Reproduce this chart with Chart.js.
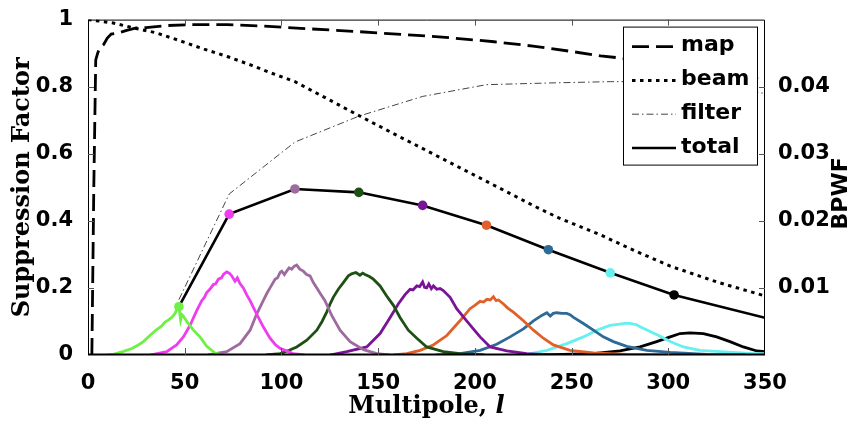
<!DOCTYPE html>
<html>
<head>
<meta charset="utf-8">
<script src="https://cdn.jsdelivr.net/npm/chart.js@4.4.1/dist/chart.umd.min.js"></script>
<style>
  html, body { margin: 0; padding: 0; background: #fff; }
  #wrap { width: 851px; height: 422px; }
</style>
</head>
<body>
<div id="wrap"><canvas id="supp" width="851" height="422"></canvas></div>
<script>
// suppression factors against multipole l (left axis)
const mapSupp = [[2,0],[3,0.5],[4,0.88],[5,0.9],[6,0.915],[8,0.925],[10,0.945],[12,0.957],[16,0.961],[20,0.968],[25,0.975],[30,0.976],[40,0.982],[53,0.985],[72,0.985],[90,0.981],[110,0.974],[140,0.964],[170,0.953],[187,0.946],[210,0.934],[230,0.921],[250,0.905],[265,0.892],[276,0.885],[300,0.865],[325,0.843],[350,0.82]];
const beamSupp = [[0,1],[13,0.99],[23,0.976],[35,0.961],[48,0.936],[60,0.912],[72,0.89],[84,0.865],[95,0.84],[107,0.815],[125,0.76],[141,0.711],[160,0.654],[187,0.574],[213,0.497],[230,0.446],[244,0.407],[265,0.358],[283,0.31],[301,0.265],[325,0.218],[350,0.176]];
const filterSupp = [[47,0.165],[73,0.48],[107,0.635],[140,0.712],[173,0.771],[206,0.806],[238,0.811],[270,0.815],[303,0.815],[350,0.78]];
const totalSupp = [[47,0.144],[73,0.42],[107,0.495],[140,0.485],[173,0.446],[206,0.387],[238,0.314],[270,0.245],[303,0.179],[350,0.111]];

// band power window functions (right axis)
const bpwf1 = [[10,0],[13,0.0001],[18,0.0005],[23,0.001],[26,0.0015],[28.6,0.002],[32,0.0029],[35.5,0.0038],[38,0.0043],[39.8,0.0049],[41.5,0.0052],[43.3,0.0056],[45,0.0062],[46,0.0069],[47,0.0072],[47.9,0.0052],[48.6,0.006],[49.3,0.0058],[51.3,0.0049],[54.5,0.0037],[57.9,0.0027],[61.4,0.0013],[65.7,0.0003],[70,0]];
const bpwf2 = [[32,0],[40.7,0.0005],[45.8,0.0015],[49.3,0.0027],[52.7,0.0044],[56.2,0.0066],[58.8,0.0081],[60,0.0085],[61.4,0.0093],[63,0.0098],[64.8,0.0105],[66,0.0106],[67.4,0.0113],[69,0.0115],[70,0.012],[71.7,0.0124],[73,0.0122],[74.3,0.0118],[76,0.011],[77.2,0.0115],[78.5,0.0107],[80.3,0.01],[82,0.009],[83.8,0.0081],[87.2,0.0061],[90.6,0.0042],[94.1,0.0025],[97,0.0015],[99.3,0.001],[106,0.0002],[112,0]];
const bpwf3 = [[62,0],[71.7,0.0005],[78.6,0.0017],[83.8,0.0037],[87.2,0.0061],[90.6,0.0081],[92.5,0.0092],[94.1,0.01],[96.7,0.0113],[98,0.0115],[99.3,0.0123],[100.2,0.0125],[101.5,0.012],[102.7,0.0125],[104,0.013],[105.3,0.0128],[106.5,0.0132],[107.9,0.0134],[109.5,0.0128],[111.3,0.0125],[113,0.012],[114.8,0.0118],[116.5,0.0108],[118.3,0.01],[120,0.0092],[122.5,0.0081],[126,0.0059],[130.3,0.0037],[135.5,0.002],[142.4,0.0008],[149.3,0.0002],[156,0]];
const bpwf4 = [[92,0],[99.3,0.0002],[104,0.0007],[107.9,0.0012],[113.1,0.0022],[118.3,0.0037],[121,0.005],[123.4,0.0064],[125,0.0075],[126.8,0.0086],[129.4,0.0098],[132,0.0108],[134.6,0.0118],[136.3,0.0121],[138.5,0.0123],[140.6,0.0119],[142,0.0122],[143.2,0.012],[145.5,0.0117],[147.5,0.0113],[151,0.0103],[154.4,0.0088],[157.9,0.0074],[161.3,0.0056],[165.6,0.0037],[170,0.0025],[175.1,0.0012],[183.7,0.0005],[192.3,0.0002],[205,0]];
const bpwf5 = [[125,0],[133.8,0.0005],[144.1,0.0012],[151,0.0032],[156.2,0.0056],[160.4,0.0076],[163.9,0.009],[166.5,0.0098],[168,0.0097],[170,0.0103],[171.5,0.0102],[173,0.0109],[174,0.0101],[175.1,0.01],[176.2,0.0106],[177.5,0.0099],[178.6,0.0103],[180.3,0.0098],[182,0.0099],[183.7,0.0096],[187.2,0.0086],[190.6,0.0069],[194.9,0.0054],[199.2,0.0039],[202.7,0.0027],[207.9,0.0012],[216.5,0.0006],[226.8,0.0002],[240,0]];
const bpwf6 = [[158,0],[164.8,0.0002],[171.7,0.0007],[178.5,0.0015],[185.5,0.0029],[192.3,0.0051],[197.5,0.0069],[200,0.0074],[202.7,0.008],[204.5,0.0079],[206.2,0.0083],[208,0.0082],[209.6,0.0087],[211,0.0081],[212.2,0.0082],[214.8,0.0076],[217,0.007],[219.9,0.0064],[225.1,0.0051],[230.3,0.0037],[235.4,0.0025],[240.6,0.0015],[249.2,0.0007],[261.3,0.0003],[278.5,0.0001],[300,0]];
const bpwf7 = [[180,0],[192.3,0.0002],[202.7,0.0007],[211.3,0.0016],[218.2,0.0027],[225.1,0.0039],[230.3,0.0051],[234.6,0.0059],[237.2,0.0063],[239,0.0058],[240.5,0.0062],[242.3,0.0063],[245,0.0062],[247.5,0.0062],[249.2,0.006],[251,0.0056],[256.1,0.0047],[261.3,0.0037],[266.4,0.0027],[271.6,0.002],[278.5,0.0013],[288.9,0.0007],[301,0.0004],[320,0.0001],[340,0]];
const bpwf8 = [[215,0],[226.8,0.0001],[237.2,0.0007],[247.5,0.0017],[256.1,0.0027],[263,0.0037],[269.9,0.0044],[275,0.0046],[277.5,0.0047],[280.2,0.0047],[283.7,0.0045],[285.4,0.0042],[290.6,0.0035],[295.8,0.0028],[301,0.002],[307.8,0.0012],[316.4,0.0007],[326.8,0.0005],[344,0.0002],[350,0.0002]];
const bpwf9 = [[235,0],[261,0.0002],[275,0.0006],[285.4,0.0012],[294,0.002],[301,0.0027],[306.1,0.0032],[311.3,0.0033],[318.1,0.0032],[325,0.0027],[331.9,0.002],[338.8,0.0012],[345.8,0.0006],[350,0.0005]];

const bandColors = ['#6ef046', '#f03cf0', '#9e6b9e', '#1e5014', '#7a1496', '#e0602a', '#2e6a98', '#66f0f0', '#000000'];
const bands = [bpwf1, bpwf2, bpwf3, bpwf4, bpwf5, bpwf6, bpwf7, bpwf8, bpwf9];

const xTicks = [50, 100, 150, 200, 250, 300];
const yTicks = [0.2, 0.4, 0.6, 0.8];
const y2Ticks = [0.01, 0.02, 0.03, 0.04];

const pts = arr => arr.map(([x, y]) => ({ x, y }));
const tickFont = { family: 'DejaVu Sans', weight: 'bold', size: 21 };

const datasets = [
    {
        label: 'total', data: pts(totalSupp), yAxisID: 'y',
        borderColor: '#000', borderWidth: 2.6,
        pointRadius: totalSupp.map((p, i) => i < bandColors.length ? 4.8 : 0),
        pointBackgroundColor: totalSupp.map((p, i) => bandColors[i] || '#000'),
        pointBorderWidth: 0
    },
    { label: 'map', data: pts(mapSupp), yAxisID: 'y', borderColor: '#000', borderWidth: 2.8, borderDash: [17, 7], pointRadius: 0 },
    { label: 'beam', data: pts(beamSupp), yAxisID: 'y', borderColor: '#000', borderWidth: 3, borderDash: [3.5, 4.5], pointRadius: 0 },
    { label: 'filter', data: pts(filterSupp), yAxisID: 'y', borderColor: '#444', borderWidth: 1, borderDash: [7, 3, 1.5, 3], pointRadius: 0 }
];
bands.forEach((b, i) => {
    datasets.push({ label: 'bpwf' + (i + 1), data: pts(b), yAxisID: 'y2', borderColor: bandColors[i], borderWidth: 2.8, pointRadius: 0 });
});

// box around the plot with inward ticks
const frame = {
    id: 'frame',
    afterDatasetsDraw(chart) {
        const { ctx, chartArea: a, scales } = chart;
        ctx.save();
        ctx.strokeStyle = '#000';
        ctx.lineWidth = 1;
        ctx.beginPath();
        ctx.moveTo(a.left + 0.5, a.bottom);
        ctx.lineTo(a.left + 0.5, a.top + 0.5);
        ctx.lineTo(a.right - 0.5, a.top + 0.5);
        ctx.lineTo(a.right - 0.5, a.bottom);
        ctx.stroke();
        ctx.lineWidth = 2;
        ctx.beginPath();
        ctx.moveTo(a.left, a.bottom - 0.5);
        ctx.lineTo(a.right, a.bottom - 0.5);
        ctx.stroke();

        ctx.strokeStyle = '#555';
        ctx.lineWidth = 1;
        ctx.beginPath();
        xTicks.forEach(v => {
            const px = Math.round(scales.x.getPixelForValue(v)) + 0.5;
            ctx.moveTo(px, a.bottom); ctx.lineTo(px, a.bottom - 7);
            ctx.moveTo(px, a.top); ctx.lineTo(px, a.top + 6);
        });
        yTicks.forEach(v => {
            const py = Math.round(scales.y.getPixelForValue(v)) + 0.5;
            ctx.moveTo(a.left, py); ctx.lineTo(a.left + 6, py);
        });
        y2Ticks.forEach(v => {
            const py = Math.round(scales.y2.getPixelForValue(v)) + 0.5;
            ctx.moveTo(a.right, py); ctx.lineTo(a.right - 6, py);
        });
        ctx.stroke();
        ctx.restore();
    }
};

// x title with italic l, right title reading upwards, boxed legend
const extras = {
    id: 'extras',
    afterDraw(chart) {
        const { ctx, chartArea: a } = chart;
        ctx.save();
        ctx.fillStyle = '#000';
        ctx.textBaseline = 'alphabetic';
        const f1 = 'bold 24px "DejaVu Serif"';
        const f2 = 'italic bold 24px "DejaVu Serif"';
        ctx.font = f1;
        const w1 = ctx.measureText('Multipole, ').width;
        ctx.font = f2;
        const w2 = ctx.measureText('l').width;
        let tx = (a.left + a.right) / 2 - (w1 + w2) / 2;
        ctx.font = f1;
        ctx.fillText('Multipole, ', tx, 413);
        ctx.font = f2;
        ctx.fillText('l', tx + w1, 413);

        ctx.translate(841, (a.top + a.bottom) / 2 + 6);
        ctx.rotate(-Math.PI / 2);
        ctx.font = 'bold 22px "DejaVu Sans"';
        ctx.textAlign = 'center';
        ctx.textBaseline = 'middle';
        ctx.fillText('BPWF', 0, 0);
        ctx.restore();

        // legend
        const lx = a.right - 142, ly = a.top + 7, lw = 135, lh = 139;
        ctx.save();
        ctx.fillStyle = '#fff';
        ctx.fillRect(lx, ly, lw, lh);
        ctx.strokeStyle = '#000';
        ctx.lineWidth = 1;
        ctx.strokeRect(lx + 0.5, ly + 0.5, lw - 1, lh - 1);
        ctx.font = 'bold 22px "DejaVu Sans"';
        ctx.textBaseline = 'middle';
        ctx.fillStyle = '#000';
        ['map', 'beam', 'filter', 'total'].forEach((name, i) => {
            const ds = chart.data.datasets.find(d => d.label === name);
            const ry = ly + 20 + i * 33.8;
            ctx.strokeStyle = ds.borderColor;
            ctx.lineWidth = ds.borderWidth;
            ctx.setLineDash(ds.borderDash || []);
            ctx.beginPath();
            ctx.moveTo(lx + 9, ry);
            ctx.lineTo(lx + 53, ry);
            ctx.stroke();
            ctx.fillText(name, lx + 58, ry - 1);
        });
        ctx.restore();
    }
};

new Chart(document.getElementById('supp'), {
    type: 'line',
    data: { datasets },
    options: {
        responsive: false,
        animation: false,
        devicePixelRatio: 1,
        layout: { padding: { top: 15, left: 0, right: 0, bottom: 0 } },
        plugins: { legend: { display: false }, tooltip: { enabled: false } },
        elements: { line: { tension: 0, fill: false } },
        scales: {
            x: {
                type: 'linear', min: 0, max: 350,
                afterFit: s => { s.height = 67; },
                grid: { display: false }, border: { display: false },
                ticks: { stepSize: 50, color: '#000', font: tickFont, padding: 8, maxRotation: 0, callback: v => String(v) }
            },
            y: {
                position: 'left', min: 0, max: 1,
                afterFit: s => { s.width = 88; },
                grid: { display: false }, border: { display: false },
                ticks: { stepSize: 0.2, color: '#000', font: tickFont, padding: 7,
                    callback: v => v === 0 ? '0' : (v > 0.99 ? '1' : v.toFixed(1)) },
                title: { display: true, text: 'Suppression Factor', color: '#000',
                    font: { family: 'DejaVu Serif', weight: 'bold', size: 24 }, padding: { top: 8, bottom: 0 } }
            },
            y2: {
                position: 'right', min: 0, max: 0.05,
                afterFit: s => { s.width = 86; },
                grid: { display: false }, border: { display: false },
                ticks: { stepSize: 0.01, color: '#000', font: tickFont, padding: 5,
                    callback: v => (v > 0.005 && v < 0.045) ? v.toFixed(2) : '' }
            }
        }
    },
    plugins: [frame, extras]
});
</script>
</body>
</html>
